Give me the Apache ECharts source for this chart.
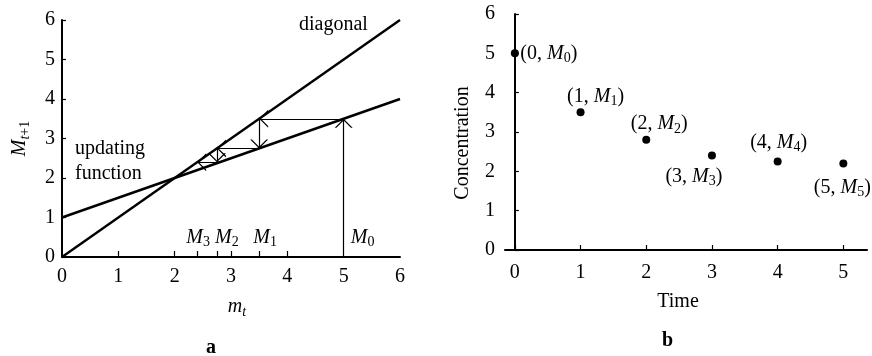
<!DOCTYPE html>
<html>
<head>
<meta charset="utf-8">
<script src="https://cdn.jsdelivr.net/npm/echarts@6/dist/echarts.min.js"></script>
<style>
html,body{margin:0;padding:0;background:#fff;}
#chart{width:872px;height:356px;}
</style>
</head>
<body>
<div id="chart"></div>
<script>
// ---- Data ----
// Panel a
const axisTicksA = [0, 1, 2, 3, 4, 5, 6];
const diagonalPts = [[0, 0], [6, 6]];
const updatingPts = [[0, 1], [6, 4]];
const cobwebM = [5, 3.5, 2.75, 2.4];           // M0..M3
const cobwebLabels = ['0', '1', '2', '3'];
// Panel b
const timeSteps = [0, 1, 2, 3, 4, 5];
const concentration = [5, 3.5, 2.8, 2.4, 2.25, 2.2];
const yTicksB = [0, 1, 2, 3, 4, 5, 6];

// ---- layout / styling helpers (not data) ----
const FONT = 'Liberation Serif';
const richM = {
  n: {fontFamily: FONT, fontSize: 20, lineHeight: 24, color: '#000', verticalAlign: 'middle'},
  i: {fontFamily: FONT, fontSize: 20, lineHeight: 24, fontStyle: 'italic', color: '#000', verticalAlign: 'middle'},
  s: {fontFamily: FONT, fontSize: 14, lineHeight: 12, color: '#000', verticalAlign: 'bottom'},
  si: {fontFamily: FONT, fontSize: 14, lineHeight: 12, fontStyle: 'italic', color: '#000', verticalAlign: 'bottom'}
};
// label placement for the M_k labels on the axis of panel a
const mLabelStyle = [
  {position: 'top', offset: [19, -2]},
  {position: 'top', offset: [6, -2]},
  {position: 'top', offset: [10, -2]},
  {position: 'top', offset: [1, -2]}
];
// label offsets for panel b points
const bLabelOffsets = [[34, 0], [15, -16], [13, -16], [-18, 21], [1, -19], [-1, 24]];

// cobweb segments built from the M values
const cobwebSegs = [];
cobwebSegs.push({coords: [[cobwebM[0], 0], [cobwebM[0], cobwebM[1]]]});
for (let k = 0; k < cobwebM.length - 1; k++) {
  if (k > 0) cobwebSegs.push({coords: [[cobwebM[k], cobwebM[k]], [cobwebM[k], cobwebM[k + 1]]]});
  cobwebSegs.push({coords: [[cobwebM[k], cobwebM[k + 1]], [cobwebM[k + 1], cobwebM[k + 1]]]});
}

// open chevron arrowhead; tip sits at the centre of the symbol box
const arrowPath = 'path://M5,0 L5.01,0 L5,0.01 Z M5,12 L10,24 L9,24 L5,14.2 L1,24 L0,24 Z';

const axisLineStyle = {color: '#000', width: 2};
const tickLabelStyle = {color: '#000', fontFamily: FONT, fontSize: 20};

const option = {
  animation: false,
  backgroundColor: '#fff',
  grid: [
    {left: 62, top: 20, width: 338, height: 237},
    {left: 505, top: 14, width: 362, height: 236}
  ],
  xAxis: [
    {
      gridIndex: 0, type: 'value', min: 0, max: 6,
      axisLine: {lineStyle: axisLineStyle},
      axisTick: {show: true, inside: true, length: 6, lineStyle: {color: '#000', width: 1.2},
        customValues: [1, 2, cobwebM[3], cobwebM[2], 3, cobwebM[1], 4]},
      axisLabel: Object.assign({margin: 10, customValues: axisTicksA}, tickLabelStyle),
      splitLine: {show: false},
      name: '{i|m}{si|t}', nameLocation: 'middle', nameGap: 38,
      nameTextStyle: {rich: richM, padding: [0, 0, 0, 12]}
    },
    {
      gridIndex: 1, type: 'value', min: -0.15, max: 5.36,
      axisLine: {lineStyle: axisLineStyle},
      axisTick: {show: true, inside: true, length: 5, lineStyle: {color: '#000', width: 1.2}, customValues: timeSteps},
      axisLabel: Object.assign({margin: 13, customValues: timeSteps}, tickLabelStyle),
      splitLine: {show: false},
      name: 'Time', nameLocation: 'middle', nameGap: 42,
      nameTextStyle: {color: '#000', fontFamily: FONT, fontSize: 20, padding: [0, 16, 0, 0]}
    }
  ],
  yAxis: [
    {
      gridIndex: 0, type: 'value', min: 0, max: 6,
      axisLine: {show: true, lineStyle: axisLineStyle},
      axisTick: {show: true, inside: true, length: 4, lineStyle: {color: '#000', width: 1.2}, customValues: axisTicksA},
      axisLabel: Object.assign({margin: 7, customValues: axisTicksA}, tickLabelStyle),
      splitLine: {show: false},
      name: '{i|M}{si|t}{s|+1}', nameLocation: 'middle', nameGap: 30,
      nameTextStyle: {rich: richM}
    },
    {
      gridIndex: 1, type: 'value', min: 0, max: 6,
      axisLine: {show: true, lineStyle: axisLineStyle},
      axisTick: {show: true, inside: true, length: 4, lineStyle: {color: '#000', width: 1.2}, customValues: yTicksB},
      axisLabel: Object.assign({margin: 10, customValues: yTicksB}, tickLabelStyle),
      splitLine: {show: false},
      name: 'Concentration', nameLocation: 'middle', nameGap: 32,
      nameTextStyle: {color: '#000', fontFamily: FONT, fontSize: 20, padding: [0, 22, 0, 0]}
    }
  ],
  graphic: [
    {type: 'text', left: 299, top: 15, style: {text: 'diagonal', fill: '#000', font: '20px "Liberation Serif"'}},
    {type: 'text', left: 75, top: 136, style: {text: 'updating\nfunction', fill: '#000', font: '20px "Liberation Serif"', lineHeight: 25}},
    {type: 'text', left: 206, top: 338, style: {text: 'a', fill: '#000', font: 'bold 20px "Liberation Serif"'}},
    {type: 'text', left: 662, top: 331, style: {text: 'b', fill: '#000', font: 'bold 20px "Liberation Serif"'}}
  ],
  series: [
    {
      type: 'line', xAxisIndex: 0, yAxisIndex: 0, data: diagonalPts,
      showSymbol: false, lineStyle: {color: '#000', width: 2.4}, silent: true
    },
    {
      type: 'line', xAxisIndex: 0, yAxisIndex: 0, data: updatingPts,
      showSymbol: false, lineStyle: {color: '#000', width: 2.4}, silent: true
    },
    {
      type: 'lines', coordinateSystem: 'cartesian2d', xAxisIndex: 0, yAxisIndex: 0,
      data: cobwebSegs,
      symbol: ['none', arrowPath], symbolSize: [7, 18],
      lineStyle: {color: '#000', width: 1.2, opacity: 1},
      silent: true
    },
    {
      type: 'scatter', xAxisIndex: 0, yAxisIndex: 0,
      data: cobwebM.map((m, k) => ({
        value: [m, 0],
        label: Object.assign({show: true, color: '#000', opacity: 1,
          formatter: '{i|M}{s|' + cobwebLabels[k] + '}', rich: richM}, mLabelStyle[k])
      })),
      symbolSize: 1, itemStyle: {color: '#000', opacity: 0.001}, silent: true
    },
    {
      type: 'scatter', xAxisIndex: 1, yAxisIndex: 1,
      data: timeSteps.map((t, k) => ({
        value: [t, concentration[k]],
        label: {show: true, position: 'inside', offset: bLabelOffsets[k], color: '#000',
          formatter: '{n|(' + t + ', }{i|M}{s|' + t + '}{n|)}', rich: richM}
      })),
      symbol: 'circle', symbolSize: 8, itemStyle: {color: '#000', opacity: 1}, silent: true
    }
  ]
};

const chart = echarts.init(document.getElementById('chart'), null, {renderer: 'canvas'});
chart.setOption(option);
</script>
</body>
</html>
